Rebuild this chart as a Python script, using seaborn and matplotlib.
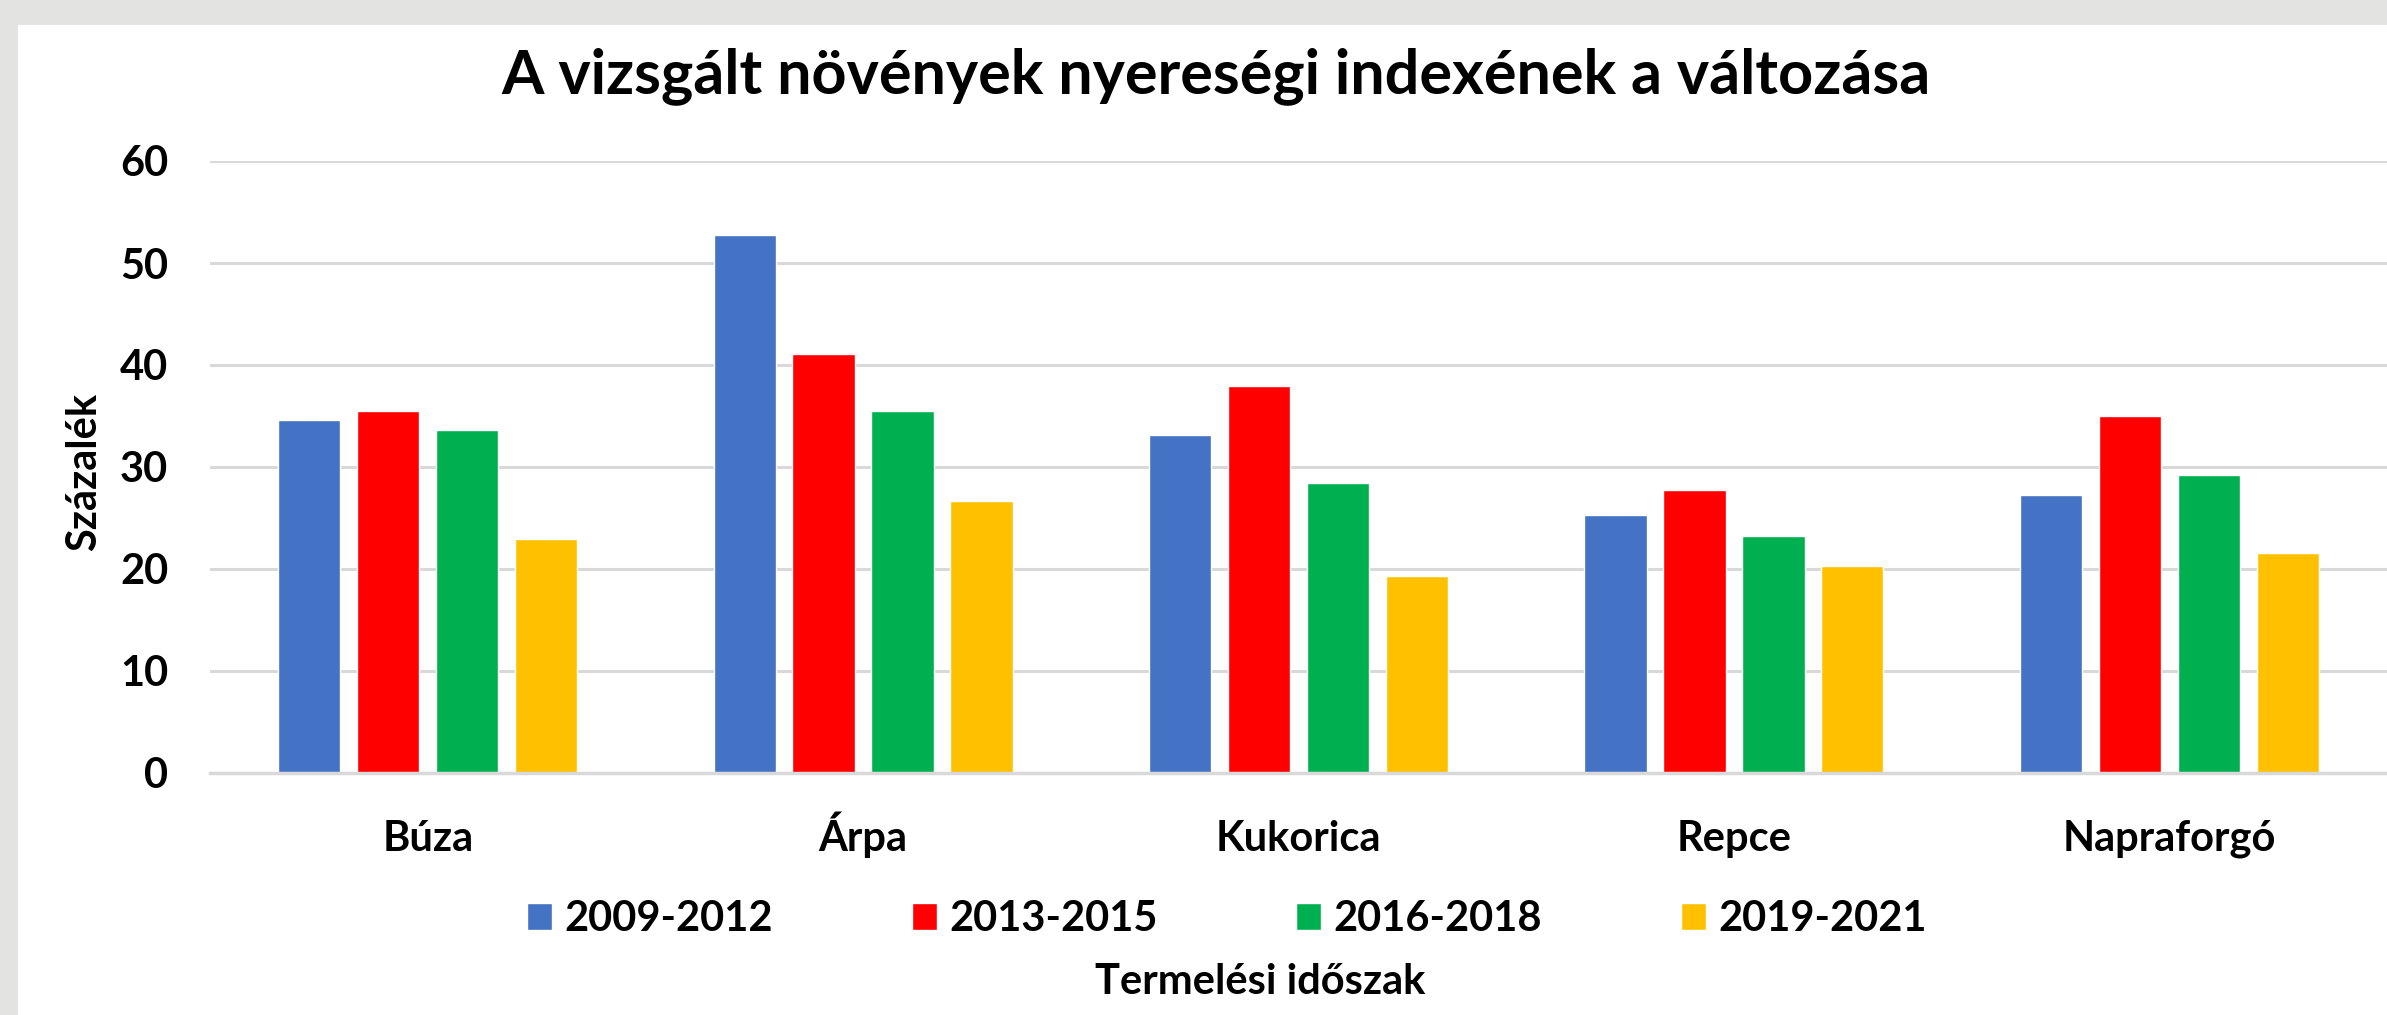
import pandas as pd
import matplotlib.pyplot as plt
import seaborn as sns
from matplotlib.patches import Rectangle

crops = ['Búza', 'Árpa', 'Kukorica', 'Repce', 'Napraforgó']
periods = ['2009-2012', '2013-2015', '2016-2018', '2019-2021']
v_2009_2012 = [34.6, 52.7, 33.1, 25.3, 27.3]
v_2013_2015 = [35.5, 41.1, 37.9, 27.7, 35.0]
v_2016_2018 = [33.6, 35.5, 28.4, 23.2, 29.2]
v_2019_2021 = [22.9, 26.7, 19.3, 20.3, 21.6]
colors = ['#4472C4', '#FF0000', '#00B050', '#FFC000']

rows = []
for per, vals in zip(periods, [v_2009_2012, v_2013_2015, v_2016_2018, v_2019_2021]):
    for c, v in zip(crops, vals):
        rows.append({'crop': c, 'period': per, 'value': v})
df = pd.DataFrame(rows)

sns.set_style('white')
plt.rcParams['font.family'] = ['Lato', 'DejaVu Sans']
plt.rcParams['font.weight'] = 'bold'
plt.rcParams['text.color'] = 'black'
plt.rcParams['xtick.color'] = 'black'
plt.rcParams['ytick.color'] = 'black'

fig = plt.figure(figsize=(23.87, 10.15), dpi=100)
fig.patch.set_facecolor('#e3e3e1')
# white chart area over the grey backdrop
fig.patches.append(Rectangle((18 / 2387, 0), 1, 1 - 25 / 1015, transform=fig.transFigure,
                             facecolor='white', edgecolor='none', zorder=-1))

ax = fig.add_axes([210 / 2387, 1 - 773 / 1015, 1 - 210 / 2387, (773 - 161) / 1015])
ax.set_zorder(2)
ax.set_facecolor('none')
sns.barplot(data=df, x='crop', y='value', hue='period', order=crops, hue_order=periods,
            palette=colors, width=0.725, gap=0.21, ax=ax, legend=True, saturation=1)

ax.set_ylim(0, 60)
ax.set_xlim(-0.5, 4.5)
ax.set_yticks(range(0, 61, 10))
ax.yaxis.grid(True, color='#d9d9d9', linewidth=2.2)
ax.set_axisbelow(True)
for s in ['top', 'right', 'left']:
    ax.spines[s].set_visible(False)
ax.spines['bottom'].set_color('#d9d9d9')
ax.spines['bottom'].set_linewidth(2.5)
ax.tick_params(axis='both', length=0, labelsize=30)
ax.tick_params(axis='x', pad=56)
ax.tick_params(axis='y', pad=30)
for lbl in ax.get_xticklabels():
    lbl.set_fontweight('bold')
    lbl.set_verticalalignment('baseline')
for lbl in ax.get_yticklabels():
    lbl.set_fontweight('bold')
ax.set_xlabel('')
ax.set_ylabel('')

handles, labels = ax.get_legend_handles_labels()
ax.get_legend().remove()
fig.legend(handles, labels, loc='center', bbox_to_anchor=(0.514, 0.0945), ncol=4,
           frameon=False, handlelength=0.6, handleheight=0.6,
           handletextpad=0.3, columnspacing=3.33, prop={'weight': 'bold', 'size': 30})

fig.text(0.5095, 0.925, 'A vizsgált növények nyereségi indexének a változása',
         ha='center', va='center', fontsize=44, fontweight='bold')
fig.text(84 / 2387, 0.535, 'Százalék', rotation=90, ha='center', va='center',
         fontsize=30, fontweight='bold')
fig.text(0.528, 0.0325, 'Termelési időszak', ha='center', va='center',
         fontsize=30, fontweight='bold')

fig.savefig('out.png', dpi=100, facecolor=fig.get_facecolor())
